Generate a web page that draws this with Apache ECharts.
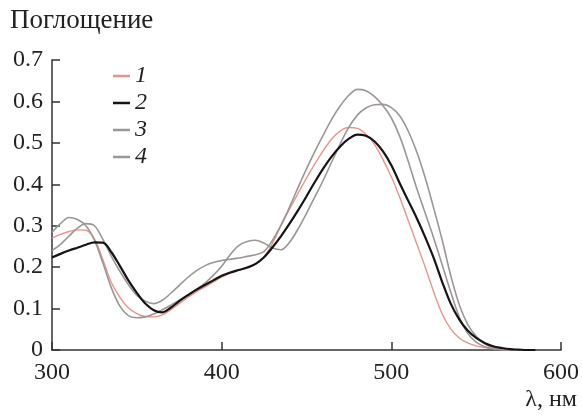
<!DOCTYPE html>
<html>
<head>
<meta charset="utf-8">
<script src="https://cdn.jsdelivr.net/npm/echarts@6/dist/echarts.min.js"></script>
<style>
  html, body { margin: 0; padding: 0; background: #fff; }
  #chart { width: 582px; height: 415px; }
</style>
</head>
<body>
<div id="chart"></div>
<script>
// Wavelength grid, nm
const wavelengths = [
  300, 305, 310, 315, 320, 325, 330, 335, 340, 345,
  350, 355, 360, 365, 370, 375, 380, 385, 390, 395,
  400, 405, 410, 415, 420, 425, 430, 435, 440, 445,
  450, 455, 460, 465, 470, 475, 480, 485, 490, 495,
  500, 505, 510, 515, 520, 525, 530, 535, 540, 545,
  550, 555, 560, 565, 570, 575, 580, 585
];

// Absorbance spectra 1–4
const absorb1 = [
  0.270, 0.279, 0.286, 0.290, 0.289, 0.268, 0.218, 0.163, 0.127, 0.102,
  0.088, 0.081, 0.080, 0.085, 0.097, 0.112, 0.127, 0.140, 0.152, 0.164,
  0.176, 0.185, 0.192, 0.198, 0.207, 0.225, 0.258, 0.300, 0.340, 0.378,
  0.415, 0.450, 0.482, 0.510, 0.529, 0.537, 0.535, 0.521, 0.497, 0.460,
  0.418, 0.368, 0.312, 0.256, 0.200, 0.140, 0.087, 0.051, 0.029, 0.017,
  0.010, 0.006, 0.003, 0.001, 0.000, 0.000, 0.000, 0.000
];
const absorb2 = [
  0.223, 0.232, 0.240, 0.247, 0.254, 0.260, 0.259, 0.236, 0.203, 0.168,
  0.138, 0.112, 0.096, 0.091, 0.102, 0.118, 0.132, 0.145, 0.157, 0.168,
  0.179, 0.187, 0.193, 0.199, 0.208, 0.224, 0.248, 0.275, 0.305, 0.337,
  0.371, 0.406, 0.439, 0.468, 0.492, 0.510, 0.520, 0.517, 0.504, 0.480,
  0.446, 0.402, 0.360, 0.318, 0.272, 0.222, 0.164, 0.112, 0.074, 0.047,
  0.029, 0.017, 0.009, 0.005, 0.002, 0.001, 0.000, 0.000
];
const absorb3 = [
  0.240, 0.255, 0.275, 0.294, 0.305, 0.300, 0.267, 0.226, 0.190, 0.158,
  0.132, 0.118, 0.112, 0.120, 0.137, 0.156, 0.175, 0.191, 0.203, 0.211,
  0.216, 0.219, 0.222, 0.226, 0.230, 0.238, 0.265, 0.302, 0.345, 0.392,
  0.437, 0.480, 0.520, 0.558, 0.590, 0.615, 0.629, 0.626, 0.612, 0.590,
  0.560, 0.515, 0.455, 0.390, 0.330, 0.270, 0.205, 0.140, 0.080, 0.040,
  0.019, 0.008, 0.003, 0.001, 0.000, 0.000, 0.000, 0.000
];
const absorb4 = [
  0.284, 0.305, 0.320, 0.315, 0.300, 0.265, 0.210, 0.150, 0.106, 0.083,
  0.078, 0.080, 0.087, 0.097, 0.108, 0.120, 0.133, 0.146, 0.161, 0.180,
  0.202, 0.230, 0.252, 0.262, 0.265, 0.258, 0.246, 0.242, 0.260, 0.292,
  0.330, 0.370, 0.411, 0.455, 0.499, 0.538, 0.567, 0.584, 0.592, 0.593,
  0.585, 0.565, 0.528, 0.478, 0.415, 0.342, 0.265, 0.180, 0.110, 0.062,
  0.033, 0.015, 0.006, 0.002, 0.000, 0.000, 0.000, 0.000
];

const seriesNames = ['1', '2', '3', '4'];
const xTicks = [300, 400, 500, 600];
const yTicks = [0, 0.1, 0.2, 0.3, 0.4, 0.5, 0.6, 0.7];

const SERIF = '"Liberation Serif", "DejaVu Serif", serif';
const colors = ['#ec9389', '#151515', '#9c9696', '#9c9696'];
const widths = [1.4, 2.2, 1.6, 1.6];

const pairs = arr => wavelengths.map((w, i) => [w, arr[i]]);
const allData = [absorb1, absorb2, absorb3, absorb4];

const chart = echarts.init(document.getElementById('chart'), null, { renderer: 'canvas' });

chart.setOption({
  backgroundColor: '#fff',
  animation: false,
  grid: { left: 52, right: 21, top: 60, bottom: 65 },
  legend: {
    orient: 'vertical',
    left: 113,
    top: 64,
    padding: 0,
    itemWidth: 17,
    itemHeight: 2.5,
    itemGap: 3,
    icon: 'rect',
    textStyle: { fontFamily: SERIF, fontStyle: 'italic', fontSize: 24, color: '#222', lineHeight: 24 },
    data: seriesNames
  },
  xAxis: {
    type: 'value',
    min: xTicks[0],
    max: xTicks[xTicks.length - 1],
    interval: 100,
    axisLine: { show: true, onZero: false, lineStyle: { color: '#333', width: 1.5 } },
    axisTick: { show: true, inside: true, length: 8, lineStyle: { color: '#333', width: 1.5 } },
    axisLabel: { fontFamily: SERIF, fontSize: 24, color: '#222', margin: 11 },
    splitLine: { show: false }
  },
  yAxis: {
    type: 'value',
    min: yTicks[0],
    max: yTicks[yTicks.length - 1],
    interval: 0.1,
    axisLine: { show: true, lineStyle: { color: '#333', width: 1.5 } },
    axisTick: { show: true, inside: true, length: 8, lineStyle: { color: '#333', width: 1.5 } },
    axisLabel: {
      fontFamily: SERIF, fontSize: 24, color: '#222', margin: 9,
      formatter: v => (Math.round(v * 10) / 10).toString()
    },
    splitLine: { show: false }
  },
  graphic: [
    {
      type: 'text', left: 10, top: 7,
      style: { text: 'Поглощение', font: '27px ' + SERIF, fill: '#222' }
    },
    {
      type: 'text', right: 5, top: 388,
      style: { text: 'λ, нм', font: '24px ' + SERIF, fill: '#222' }
    }
  ],
  series: seriesNames.map((name, i) => ({
    name,
    type: 'line',
    smooth: 0.35,
    showSymbol: false,
    z: i === 1 ? 5 : 3,
    color: colors[i],
    lineStyle: { color: colors[i], width: widths[i] },
    data: pairs(allData[i])
  }))
});
</script>
</body>
</html>
